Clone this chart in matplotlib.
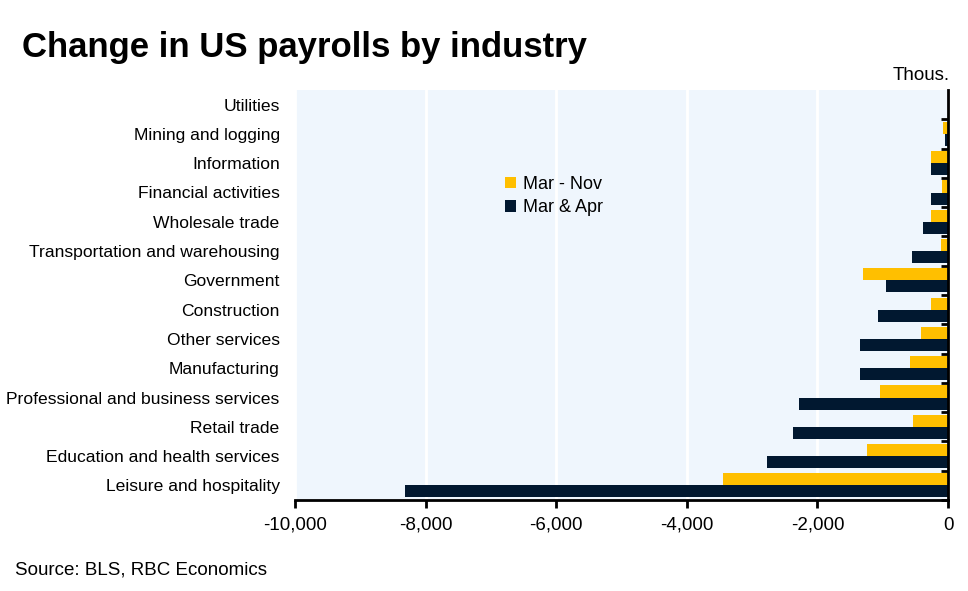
import matplotlib.pyplot as plt
import numpy as np

plt.rcParams["font.family"] = ["Liberation Sans", "DejaVu Sans"]

# categories listed top to bottom
categories = ["Utilities", "Mining and logging", "Information", "Financial activities",
              "Wholesale trade", "Transportation and warehousing", "Government",
              "Construction", "Other services", "Manufacturing",
              "Professional and business services", "Retail trade",
              "Education and health services", "Leisure and hospitality"]
mar_nov = [-3, -70, -260, -90, -260, -105, -1300, -260, -410, -580, -1040, -535, -1235, -3440]
mar_apr = [-5, -45, -260, -260, -385, -550, -950, -1070, -1345, -1345, -2285, -2375, -2770, -8320]
xticks = [-10000, -8000, -6000, -4000, -2000, 0]

yellow = "#FFBF00"
navy = "#011830"

fig = plt.figure(figsize=(9.68, 5.91), dpi=100)
ax = fig.add_axes([295 / 968, 1 - 500 / 591, 653 / 968, 410 / 591])
ax.set_facecolor("#EFF6FD")

y = np.arange(len(categories))
h = 0.41
ax.barh(y - h / 2, mar_nov, height=h, color=yellow, label="Mar - Nov", zorder=3)
ax.barh(y + h / 2, mar_apr, height=h, color=navy, label="Mar & Apr", zorder=3)

ax.set_xlim(-10000, 0)
ax.set_ylim(13.45, -0.5)
ax.set_xticks(xticks)
ax.set_xticklabels([f"{v:,}" for v in xticks], fontsize=13.5)
ax.grid(axis="x", color="white", linewidth=2, zorder=1)

ax.set_yticks(y)
ax.set_yticklabels(categories, fontsize=12.6)
ax.set_yticks(np.arange(len(categories)) + 0.5, minor=True)
ax.tick_params(axis="y", which="major", length=0, pad=11)
ax.tick_params(axis="y", which="minor", left=False, right=True, direction="in", length=5, width=2)
ax.tick_params(axis="x", length=6, width=2, direction="out", pad=6)

for s in ["top", "left"]:
    ax.spines[s].set_visible(False)
for s in ["bottom", "right"]:
    ax.spines[s].set_linewidth(2)
    ax.spines[s].set_zorder(4)

ax.legend(loc="upper left", bbox_to_anchor=(0.297, 0.83), frameon=False, fontsize=13,
          handlelength=0.6, handleheight=0.6, handletextpad=0.4, labelspacing=0.35)

fig.text(22 / 968, 1 - 47 / 591, "Change in US payrolls by industry", fontsize=25,
         fontweight="bold", va="center", ha="left")
fig.text(950 / 968, 1 - 75 / 591, "Thous.", fontsize=13.5, va="center", ha="right")
fig.text(15 / 968, 1 - 570 / 591, "Source: BLS, RBC Economics", fontsize=13.5, va="center", ha="left")

fig.savefig("out.png", dpi=100)
